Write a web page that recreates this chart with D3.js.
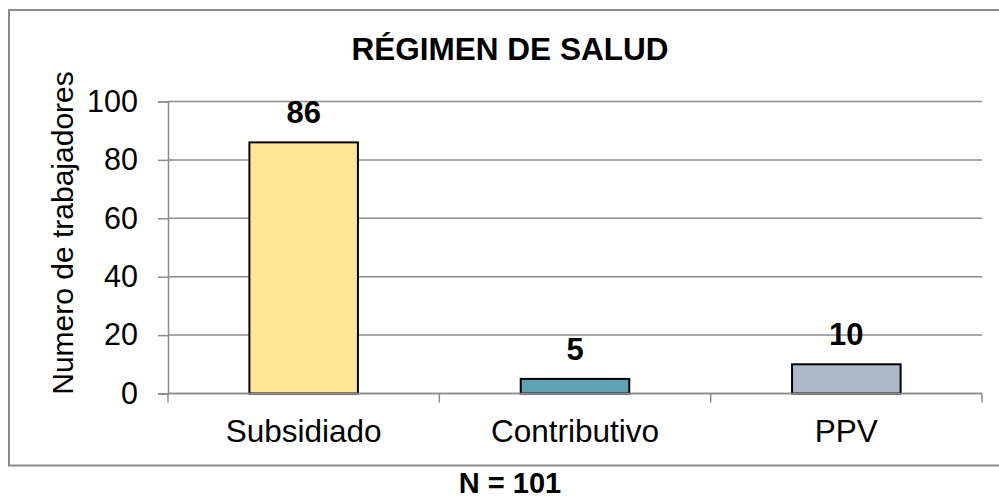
<!DOCTYPE html>
<html>
<head>
<meta charset="utf-8">
<script src="https://cdn.jsdelivr.net/npm/d3@7"></script>
<style>
  body { margin: 0; background: #fff; }
  svg { display: block; font-family: "Liberation Sans", Arial, sans-serif; }
</style>
</head>
<body>
<svg id="chart" width="999" height="498"></svg>
<script>
const categories = ['Subsidiado', 'Contributivo', 'PPV'];
const values = [86, 5, 10];
const barColors = ['#FFE699', '#5FA3B3', '#ADB9CA'];
const yTicks = [0, 20, 40, 60, 80, 100];

const svg = d3.select('#chart');

// Outer chart frame (right edge runs off the picture)
svg.append('rect')
  .attr('x', 9).attr('y', 10)
  .attr('width', 1000).attr('height', 455.5)
  .attr('fill', 'none')
  .attr('stroke', '#8c8c8c')
  .attr('stroke-width', 2);

const plot = { left: 168, right: 982, top: 101.5, bottom: 393.5 };

const x = d3.scaleBand()
  .domain(categories)
  .range([plot.left, plot.right])
  .paddingInner(0.6)
  .paddingOuter(0.3);

const y = d3.scaleLinear()
  .domain([0, 100])
  .range([plot.bottom, plot.top]);

// Gridlines
svg.append('g')
  .selectAll('line')
  .data(yTicks)
  .join('line')
    .attr('x1', plot.left).attr('x2', plot.right)
    .attr('y1', (d) => y(d)).attr('y2', (d) => y(d))
    .attr('stroke', '#8c8c8c')
    .attr('stroke-width', 1.5);

// Y axis
const yAxis = svg.append('g')
  .attr('transform', `translate(${plot.left},0)`)
  .call(d3.axisLeft(y).tickValues(yTicks).tickSize(10).tickPadding(20));
yAxis.select('.domain').attr('stroke', '#8c8c8c').attr('stroke-width', 1.5);
yAxis.selectAll('.tick line').attr('stroke', '#8c8c8c').attr('stroke-width', 1.5);
yAxis.selectAll('.tick text')
  .attr('font-size', 30.5)
  .attr('font-family', '"Liberation Sans", Arial, sans-serif')
  .attr('fill', '#000');

// X axis: tick marks sit on the category boundaries
const boundaries = d3.range(categories.length + 1).map((i) => plot.left + i * (plot.right - plot.left) / categories.length);
svg.append('g')
  .selectAll('line')
  .data(boundaries)
  .join('line')
    .attr('x1', (d) => d).attr('x2', (d) => d)
    .attr('y1', plot.bottom).attr('y2', plot.bottom + 9)
    .attr('stroke', '#8c8c8c')
    .attr('stroke-width', 1.5);

svg.append('g')
  .selectAll('text')
  .data(categories)
  .join('text')
    .attr('x', (d) => x(d) + x.bandwidth() / 2)
    .attr('y', 442)
    .attr('text-anchor', 'middle')
    .attr('font-size', 31.5)
    .text((d) => d);

// Bars
svg.append('g')
  .selectAll('rect')
  .data(values)
  .join('rect')
    .attr('x', (d, i) => x(categories[i]))
    .attr('y', (d) => y(d))
    .attr('width', x.bandwidth())
    .attr('height', (d) => y(0) - y(d))
    .attr('fill', (d, i) => barColors[i])
    .attr('stroke', '#000')
    .attr('stroke-width', 2);

// Baseline over bars
svg.append('line')
  .attr('x1', plot.left).attr('x2', plot.right)
  .attr('y1', plot.bottom).attr('y2', plot.bottom)
  .attr('stroke', '#8c8c8c')
  .attr('stroke-width', 1.5);

// Value labels
svg.append('g')
  .selectAll('text')
  .data(values)
  .join('text')
    .attr('x', (d, i) => x(categories[i]) + x.bandwidth() / 2)
    .attr('y', (d) => y(d) - 19)
    .attr('text-anchor', 'middle')
    .attr('font-size', 31)
    .attr('font-weight', 'bold')
    .text((d) => d);

// Title
svg.append('text')
  .attr('x', 510).attr('y', 60)
  .attr('text-anchor', 'middle')
  .attr('font-size', 31.5)
  .attr('font-weight', 'bold')
  .text('RÉGIMEN DE SALUD');

// Y axis title
svg.append('text')
  .attr('transform', 'translate(73,233) rotate(-90)')
  .attr('text-anchor', 'middle')
  .attr('font-size', 30)
  .text('Numero de trabajadores');

// Footnote
svg.append('text')
  .attr('x', 510).attr('y', 493)
  .attr('text-anchor', 'middle')
  .attr('font-size', 29)
  .attr('font-weight', 'bold')
  .text('N = 101');
</script>
</body>
</html>
